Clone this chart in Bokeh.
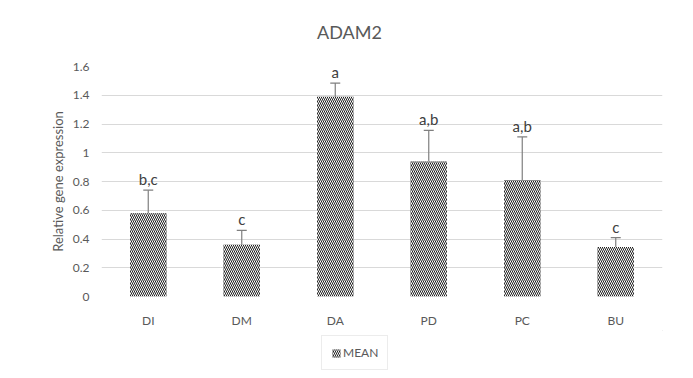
from bokeh.plotting import figure
from bokeh.layouts import column
from bokeh.models import (ColumnDataSource, Range1d, FixedTicker, CustomJSTickFormatter,
                          Legend, LegendItem, Whisker)
from bokeh.core.properties import value
from bokeh.embed import file_html
from bokeh.resources import INLINE

title_text = "ADAM2"
categories = ["DI", "DM", "DA", "PD", "PC", "BU"]
means = [0.58, 0.36, 1.39, 0.94, 0.81, 0.345]
errors = [0.16, 0.10, 0.095, 0.215, 0.30, 0.065]
letters = ["b,c", "c", "a", "a,b", "a,b", "c"]
y_ticks = [0, 0.2, 0.4, 0.6, 0.8, 1, 1.2, 1.4, 1.6]
series_name = "MEAN"

upper = [m + e for m, e in zip(means, errors)]
src = ColumnDataSource(dict(cat=categories, mean=means, upper=upper, lower=means, lab=letters))

FONT = "Lato"
GRAY = "#595959"
BAR_STYLE = dict(fill_color="#222222", line_color=None, hatch_pattern="\\",
                 hatch_color="white", hatch_weight=1.0, hatch_scale=4)
W = 677


def blank(fig):
    fig.axis.visible = False
    fig.grid.grid_line_color = None
    fig.outline_line_color = None


# title strip (its frame is aligned with the chart frame by the column layout)
p0 = figure(width=W, height=56, output_backend="svg", toolbar_location=None,
            min_border=0, x_range=Range1d(0, 1), y_range=Range1d(0, 1))
blank(p0)
p0.text(x=[0.442], y=[0.446], text=[title_text], text_align="center", text_baseline="middle",
        text_font=value(FONT), text_font_size="18px", text_color=GRAY)

# main chart
p = figure(x_range=categories, y_range=Range1d(0, 1.6), width=W, height=274,
           output_backend="svg", toolbar_location=None,
           min_border_left=101, min_border_right=15, min_border_top=10, min_border_bottom=33)

bars = p.vbar(x="cat", top="mean", width=0.39, source=src, **BAR_STYLE)

wh = Whisker(source=src, base="cat", upper="upper", lower="lower", dimension="height",
             line_color="#7f7f7f", line_width=1.2, lower_head=None)
wh.upper_head.size = 10
wh.upper_head.line_color = "#7f7f7f"
wh.upper_head.line_width = 1.2
p.add_layout(wh)

p.text(x="cat", y="upper", text="lab", source=src, text_align="center",
       text_baseline="bottom", y_offset=-2, text_font=value(FONT),
       text_font_size="15px", text_color="#404040")

p.yaxis.ticker = FixedTicker(ticks=y_ticks)
p.yaxis.formatter = CustomJSTickFormatter(code="return String(Math.round(tick*10)/10);")
p.ygrid.ticker = FixedTicker(ticks=y_ticks)
p.ygrid.grid_line_color = "#d9d9d9"
p.xgrid.grid_line_color = None

for ax in (p.xaxis, p.yaxis):
    ax.axis_line_color = None
    ax.major_tick_line_color = None
    ax.minor_tick_line_color = None
    ax.major_tick_out = 0
    ax.major_tick_in = 0
    ax.minor_tick_out = 0
    ax.major_label_text_font = FONT
    ax.major_label_text_font_size = "12px"
    ax.major_label_text_color = GRAY

p.yaxis.major_label_standoff = 12
p.xaxis.major_label_standoff = 16
p.yaxis.axis_label = "Relative gene expression"
p.yaxis.axis_label_text_font = FONT
p.yaxis.axis_label_text_font_size = "13px"
p.yaxis.axis_label_text_font_style = "normal"
p.yaxis.axis_label_text_color = GRAY
p.yaxis.axis_label_standoff = 4
p.outline_line_color = None

# legend strip below the chart
p2 = figure(width=W, height=44, output_backend="svg", toolbar_location=None,
            min_border=0, x_range=Range1d(0, 1), y_range=Range1d(0, 1))
blank(p2)
dummy = p2.vbar(x=[5], top=[5], bottom=[4], width=0.1, **BAR_STYLE)
legend = Legend(items=[LegendItem(label=series_name, renderers=[dummy])],
                location=(220, 4), orientation="horizontal",
                label_text_font=FONT, label_text_font_size="12px", label_text_color=GRAY,
                border_line_color="#d9d9d9", glyph_width=10, glyph_height=10,
                label_standoff=2, padding=9, margin=0)
p2.add_layout(legend, "center")

layout = column(p0, p, p2, spacing=0)
open("out.html", "w").write(file_html(layout, INLINE))
